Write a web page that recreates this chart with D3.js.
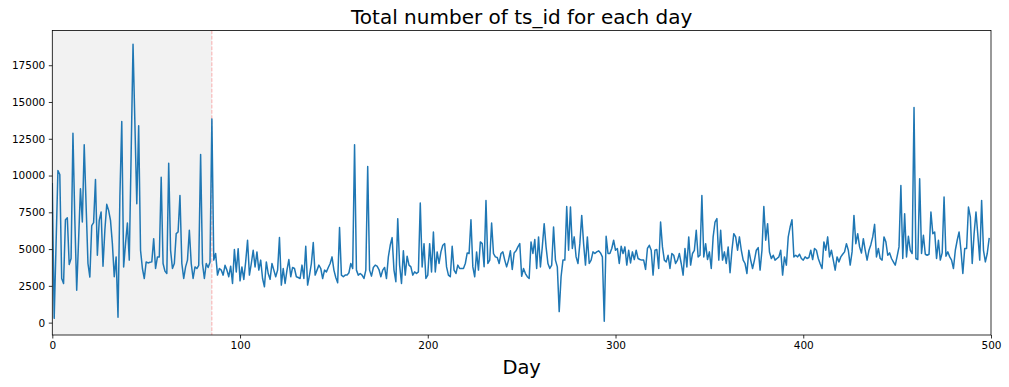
<!DOCTYPE html>
<html>
<head>
<meta charset="utf-8">
<script src="https://cdn.jsdelivr.net/npm/d3@7"></script>
<style>
  body { margin: 0; background: #fff; }
  svg text { font-family: "DejaVu Sans", sans-serif; }
</style>
</head>
<body>
<svg id="chart" width="1009" height="387"></svg>
<script>
// daily totals (day 0 .. 499)
const tsCount = [
  9440, 290, 5300, 10340, 10070, 3000, 2660, 7000, 7130, 3950,
  4360, 12870, 7000, 2200, 5600, 9100, 6840, 12100, 8000, 4020,
  3100, 6600, 6800, 9730, 4580, 6950, 7520, 3840, 6280, 8040,
  7630, 6950, 5370, 3120, 4470, 360, 8540, 13680, 3790, 5370,
  6770, 4250, 11500, 18920, 13500, 8080, 13390, 4920, 3680, 3000,
  4130, 4060, 4100, 4130, 5710, 3680, 4470, 4470, 9890, 4020,
  3500, 3340, 10840, 4920, 3680, 4020, 6050, 6160, 8650, 4020,
  3000, 3790, 4250, 6280, 4020, 3000, 3790, 3680, 3900, 11430,
  4020, 3000, 4020, 3750, 4100, 13840, 4250, 4700, 3230, 3680,
  3570, 3230, 3900, 3570, 3120, 3840, 2660, 4970, 3450, 5030,
  2840, 3790, 2940, 4130, 5600, 3230, 4020, 4920, 3790, 4810,
  3570, 4250, 3000, 2440, 4130, 3340, 2940, 4020, 3570, 3120,
  3570, 5780, 2550, 3680, 2660, 3570, 4290, 3120, 3750, 3680,
  3120, 3070, 3000, 3910, 3000, 5190, 2550, 3230, 4020, 5440,
  3230, 3570, 3910, 3680, 3000, 3570, 3450, 3750, 4020, 4470,
  3570, 3070, 2710, 6460, 3230, 3120, 3230, 3230, 3390, 4020,
  3680, 12100, 3570, 3230, 3340, 3230, 3000, 3570, 10610, 3570,
  3160, 3750, 3910, 3840, 3610, 3120, 3570, 3750, 3000, 4470,
  5260, 5780, 3570, 2780, 7070, 3910, 2660, 4880, 3230, 4520,
  3910, 3790, 3230, 3450, 3340, 3450, 8130, 3790, 5370, 3000,
  3230, 5370, 3450, 6160, 3450, 4810, 4020, 4810, 5260, 5370,
  3790, 3230, 3120, 5190, 3570, 3340, 3910, 3680, 3680, 3680,
  4020, 4740, 4700, 7000, 3790, 3120, 4810, 3570, 5490, 5370,
  3800, 8310, 4020, 4250, 6770, 4700, 4470, 4430, 4020, 4700,
  4810, 4250, 3790, 4250, 4880, 3610, 4740, 4880, 5150, 5370,
  3150, 3680, 3340, 3120, 3000, 5490, 4700, 5650, 3680, 5830,
  3790, 5150, 6730, 5150, 4020, 3680, 3910, 6500, 4250, 3790,
  750, 3120, 4250, 4250, 7900, 4920, 7860, 5040, 5830, 4470,
  4020, 5370, 7290, 5370, 3910, 5830, 4020, 4250, 4810, 4700,
  4810, 4880, 4740, 4470, 100, 5870, 4700, 4700, 5040, 5600,
  4920, 5040, 4020, 5190, 4700, 5150, 3910, 4920, 4060, 4810,
  4290, 4920, 4360, 4290, 4250, 4250, 3620, 5040, 5260, 4920,
  3230, 4920, 4970, 3680, 6840, 5150, 4250, 4130, 4580, 3680,
  4700, 4580, 4020, 4250, 4700, 4020, 3230, 5040, 3790, 5830,
  3910, 4700, 4920, 6280, 4470, 4580, 8650, 4470, 5370, 4290,
  4810, 3680, 5830, 6840, 7070, 4250, 6280, 4250, 4810, 4020,
  5150, 3390, 4920, 6050, 5830, 4920, 5830, 4920, 4250, 4020,
  3340, 4920, 4250, 3680, 4250, 4920, 5100, 3570, 4920, 7900,
  5600, 6730, 4800, 4360, 4580, 4250, 4360, 4470, 4920, 3230,
  4470, 3910, 5830, 6500, 7000, 4470, 4580, 4470, 4650, 4360,
  4250, 4470, 4360, 4430, 4920, 4290, 5040, 4920, 4360, 4000,
  3680, 5490, 4920, 5830, 4470, 4920, 4250, 3570, 4470, 4130,
  4470, 4650, 4810, 5370, 4920, 3910, 4810, 7290, 5370, 6050,
  5150, 4740, 5710, 4920, 4250, 4920, 5300, 5830, 6680, 4470,
  5040, 4360, 4250, 5830, 5490, 4580, 4740, 4360, 4130, 3910,
  4500, 5150, 9330, 4360, 7400, 4470, 5870, 4920, 4700, 14630,
  4360, 4290, 9780, 4700, 5940, 4650, 4580, 4650, 7520, 6050,
  6160, 4360, 5600, 4250, 4740, 8540, 4520, 4810, 4470, 4250,
  3680, 4920, 5600, 6160, 4920, 3340, 5040, 5040, 7860, 7180,
  4020, 6050, 7520, 5940, 4250, 8310, 4920, 4130, 4700, 5710
];
const days = tsCount.map((v, i) => i);

const xTicks = [0, 100, 200, 300, 400, 500];
const yTicks = [0, 2500, 5000, 7500, 10000, 12500, 15000, 17500];
const xRange = [0, 500];
const shadeEnd = 85;   // grey span + dashed marker

const titleText = "Total number of ts_id for each day";
const xLabelText = "Day";

let svg = d3.select("#chart");
let width = 1009, height = 387;
let padding = {left: 52.3, right: 18, top: 30.5, bottom: 52};
let plotW = width - padding.left - padding.right;
let plotH = height - padding.top - padding.bottom;

// matplotlib style auto limits: 5% margin around data
let yMin = d3.min(tsCount), yMax = d3.max(tsCount);
let yPad = (yMax - yMin) * 0.05;

let x = d3.scaleLinear().domain(xRange).range([0, plotW]);
let y = d3.scaleLinear().domain([yMin - yPad, yMax + yPad]).range([plotH, 0]);

svg.append("rect").attr("width", width).attr("height", height).attr("fill", "#fff");

let g = svg.append("g")
    .attr("transform", "translate(" + padding.left + "," + padding.top + ")");

g.append("defs").append("clipPath").attr("id", "plotclip")
    .append("rect").attr("width", plotW).attr("height", plotH);

// shaded first period
g.append("rect")
    .attr("x", x(0))
    .attr("y", 0)
    .attr("width", x(shadeEnd) - x(0))
    .attr("height", plotH)
    .attr("fill", "#f2f2f2");

g.append("line")
    .attr("x1", x(shadeEnd)).attr("x2", x(shadeEnd))
    .attr("y1", 0).attr("y2", plotH)
    .attr("stroke", "#ff0000")
    .attr("stroke-opacity", 0.3)
    .attr("stroke-width", 1)
    .attr("stroke-dasharray", "3.7,1.6");

let line = d3.line()
    .x(function(d, i) { return x(days[i]); })
    .y(function(d) { return y(d); });

g.append("path")
    .datum(tsCount)
    .attr("clip-path", "url(#plotclip)")
    .attr("fill", "none")
    .attr("stroke", "#1f77b4")
    .attr("stroke-width", 1.5)
    .attr("stroke-linejoin", "round")
    .attr("stroke-linecap", "square")
    .attr("d", line);

// axes
let xAxis = g.append("g")
    .attr("transform", "translate(0," + plotH + ")")
    .call(d3.axisBottom(x).tickValues(xTicks).tickSize(3.5).tickPadding(3.5).tickFormat(d3.format("d")));
let yAxis = g.append("g")
    .call(d3.axisLeft(y).tickValues(yTicks).tickSize(3.5).tickPadding(3.5).tickFormat(d3.format("d")));

[xAxis, yAxis].forEach(function(a) {
    a.select(".domain").remove();
    a.selectAll(".tick line").attr("stroke", "#000").attr("stroke-width", 0.8);
    a.selectAll(".tick text")
        .attr("fill", "#000")
        .style("font-size", "10.5px")
        .style("font-family", "DejaVu Sans");
});

// frame
g.append("rect")
    .attr("width", plotW).attr("height", plotH)
    .attr("fill", "none")
    .attr("stroke", "#000")
    .attr("stroke-width", 0.8);

svg.append("text")
    .attr("x", padding.left + plotW / 2)
    .attr("y", padding.top - 6.5)
    .attr("text-anchor", "middle")
    .style("font-size", "20px")
    .attr("fill", "#000")
    .text(titleText);

svg.append("text")
    .attr("x", padding.left + plotW / 2)
    .attr("y", 374)
    .attr("text-anchor", "middle")
    .style("font-size", "19.5px")
    .attr("fill", "#000")
    .text(xLabelText);
</script>
</body>
</html>
